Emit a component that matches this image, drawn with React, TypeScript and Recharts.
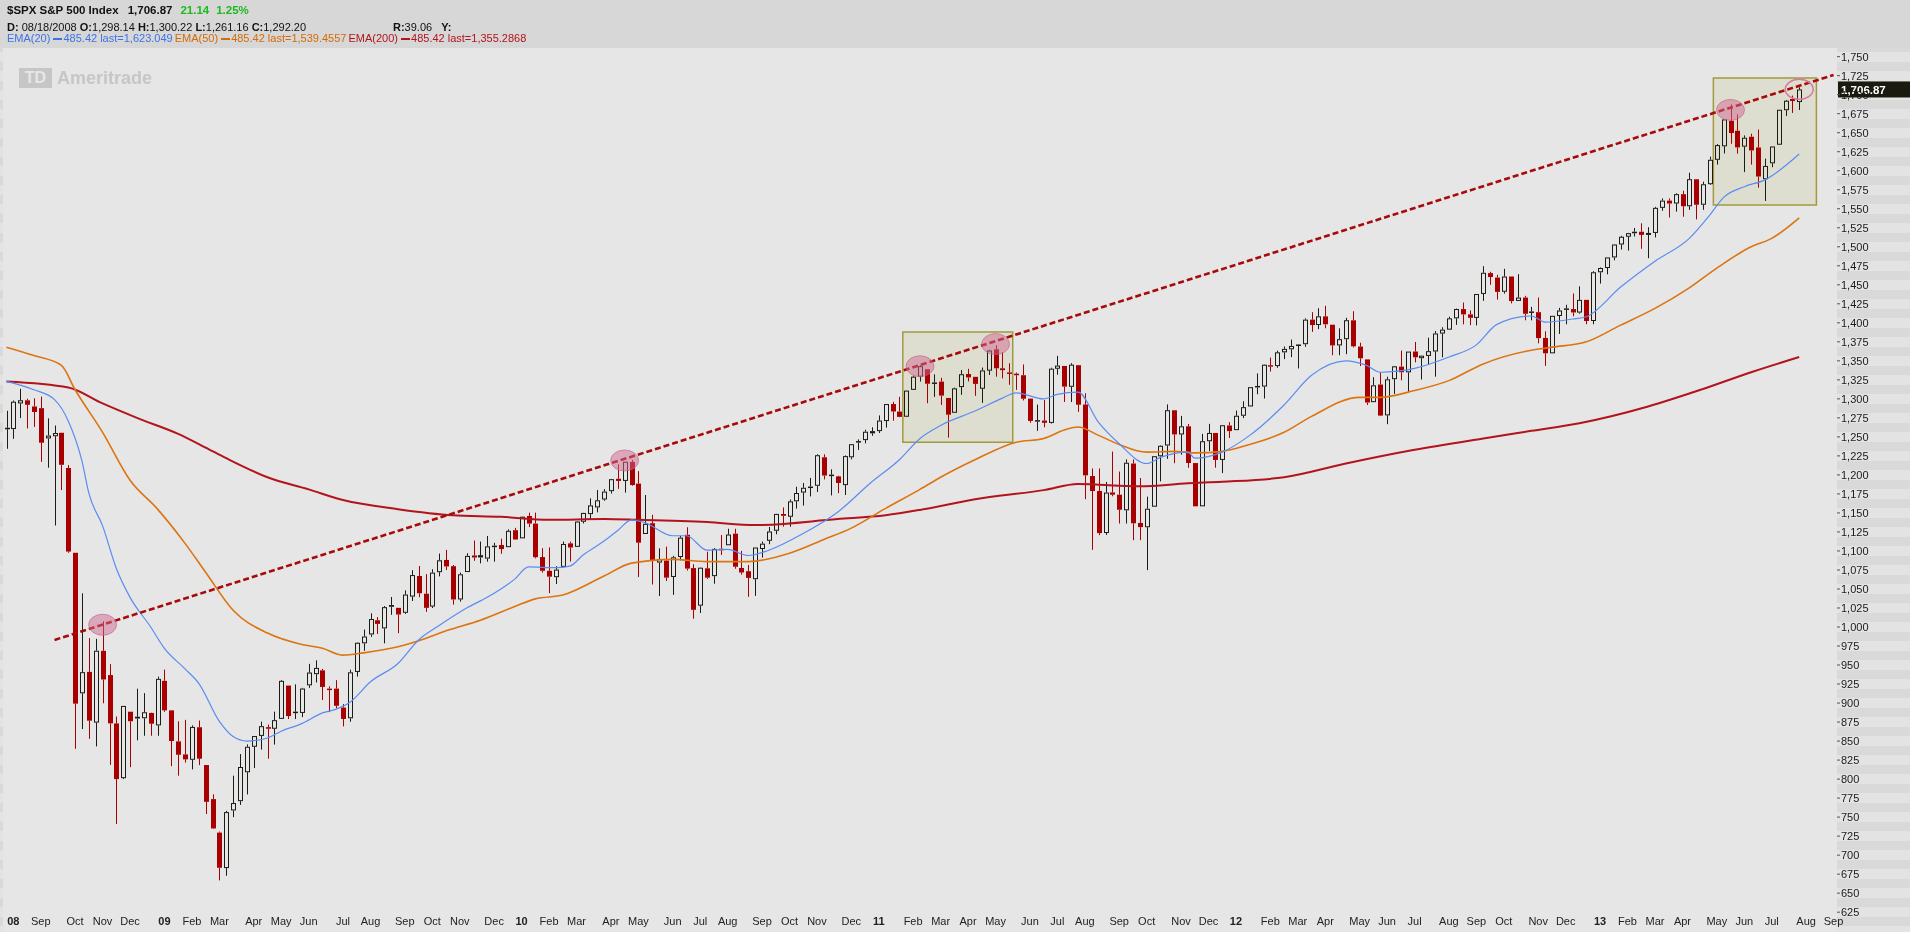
import React from "react";
import {
  Bar,
  ComposedChart,
  Line,
  ReferenceArea,
  ReferenceDot,
  ReferenceLine,
  XAxis,
  YAxis,
} from "recharts";

// weekly bars, [open, high, low, close], first bar is the week of 2008-07-28
type Ohlc = [number, number, number, number];

const bars2008: Ohlc[] = [
  [1262, 1284.3, 1234.4, 1260.3], [1260.3, 1297.9, 1247.5, 1296.3], [1294, 1313.2, 1274.7, 1298.2],
  [1298.1, 1300.2, 1261.2, 1292.2], [1290, 1300.7, 1263.2, 1282.8], [1287.8, 1303.0, 1217.2, 1242.3],
  [1248, 1274.4, 1209.5, 1251.7], [1250.9, 1265.0, 1133.5, 1255.1], [1255.4, 1255.5, 1180.0, 1213.3],
  [1209.1, 1213.0, 1097.6, 1099.2], [1097.6, 1097.6, 839.8, 899.2], [912.8, 1044.3, 865.8, 940.6],
  [941.0, 985.4, 853.0, 876.8], [874.3, 984.4, 843.0, 968.8], [968.7, 1007.5, 899.7, 931.0],
  [936.8, 951.2, 818.7, 873.3], [873.2, 882.3, 741.0, 800.0], [801.2, 896.3, 800.0, 896.2],
  [888.6, 888.6, 815.7, 876.1], [882.0, 918.9, 851.0, 879.7], [880.0, 913.0, 857.0, 887.9],
  [887.0, 887.4, 857.0, 872.8], [870.6, 934.7, 857.0, 931.8],
];

const bars2009: Ohlc[] = [
  [929.2, 943.9, 888.3, 890.4], [890.4, 890.4, 817.0, 850.1], [849.6, 876.0, 804.5, 832.0],
  [832.5, 877.9, 821.7, 825.9], [825.4, 870.7, 812.8, 868.6], [868.2, 877.0, 818.4, 826.8],
  [818.5, 818.5, 754.0, 770.1], [773.7, 780.0, 734.5, 735.1], [729.6, 731.0, 666.8, 683.4],
  [683.0, 758.3, 672.9, 756.6], [758.8, 804.5, 750.0, 768.5], [771.0, 832.9, 766.0, 815.9],
  [809.0, 845.6, 779.8, 842.5], [842.5, 856.6, 814.5, 856.6], [856.8, 875.6, 838.8, 869.6],
  [868.3, 871.8, 826.8, 866.2], [866.2, 888.7, 845.4, 877.5], [879.2, 930.2, 879.2, 929.2],
  [923.0, 923.0, 879.0, 882.9], [888.7, 924.6, 879.0, 887.0], [887.0, 920.0, 881.5, 919.1],
  [923.3, 951.5, 920.0, 940.1], [938.0, 956.2, 927.0, 946.2], [943.0, 945.0, 904.0, 921.2],
  [919.0, 922.0, 888.0, 918.9], [919.0, 930.1, 893.0, 896.4], [894.0, 898.7, 869.3, 879.1],
  [880.0, 943.9, 875.4, 940.4], [940.9, 979.8, 934.8, 979.3], [978.6, 996.7, 968.7, 987.5],
  [990.2, 1018.0, 987.0, 1010.5], [1008.9, 1013.1, 990.9, 1004.1], [998.2, 1027.6, 978.5, 1026.1],
  [1026.6, 1039.5, 1016.0, 1028.9], [1025.2, 1025.2, 992.0, 1016.4], [1018.7, 1048.2, 1017.3, 1042.7],
  [1040.0, 1074.8, 1034.2, 1068.3], [1067.1, 1080.2, 1039.2, 1044.4], [1043.8, 1069.6, 1019.9, 1025.2],
  [1026.9, 1076.0, 1025.0, 1071.5], [1072.1, 1096.6, 1066.6, 1087.7], [1088.2, 1101.4, 1075.0, 1079.6],
  [1080.0, 1081.5, 1029.4, 1036.2], [1036.2, 1071.5, 1033.4, 1069.3], [1072.3, 1097.0, 1072.3, 1093.5],
  [1094.1, 1113.7, 1087.0, 1091.4], [1094.5, 1112.4, 1083.7, 1091.5], [1090.0, 1119.7, 1085.9, 1106.0],
  [1107.0, 1110.7, 1085.9, 1106.4], [1107.8, 1116.2, 1096.3, 1102.5], [1105.0, 1128.5, 1105.0, 1126.5],
  [1127.3, 1130.4, 1114.8, 1115.1],
];

const bars2010: Ohlc[] = [
  [1116.6, 1145.4, 1116.6, 1145.0], [1146.0, 1150.4, 1131.4, 1136.0], [1136.0, 1150.4, 1090.2, 1091.8],
  [1092.0, 1103.7, 1071.6, 1073.9], [1073.9, 1104.7, 1044.5, 1066.2], [1065.5, 1080.0, 1056.5, 1075.5],
  [1079.1, 1112.4, 1079.1, 1109.2], [1110.0, 1112.3, 1086.0, 1104.5], [1105.4, 1139.0, 1105.4, 1138.7],
  [1138.4, 1150.2, 1136.2, 1150.0], [1148.5, 1169.2, 1141.5, 1159.9], [1157.3, 1180.2, 1150.8, 1166.6],
  [1167.7, 1181.4, 1165.9, 1178.1], [1178.7, 1194.7, 1175.5, 1194.4], [1194.9, 1213.9, 1181.6, 1192.1],
  [1192.1, 1217.4, 1176.7, 1217.3], [1217.1, 1219.8, 1185.8, 1186.7], [1188.6, 1205.0, 1065.8, 1110.9],
  [1122.3, 1173.6, 1122.3, 1135.7], [1136.5, 1147.6, 1055.9, 1087.7], [1084.8, 1103.5, 1040.8, 1089.4],
  [1087.3, 1105.7, 1060.4, 1064.9], [1065.8, 1093.6, 1042.2, 1091.6], [1092.0, 1119.7, 1087.7, 1117.5],
  [1121.3, 1131.2, 1074.2, 1076.8], [1077.5, 1082.6, 1010.9, 1022.6], [1028.1, 1078.2, 1018.4, 1078.0],
  [1077.2, 1099.1, 1063.3, 1064.9], [1066.9, 1103.7, 1056.9, 1102.7], [1102.9, 1121.0, 1094.7, 1101.6],
  [1107.5, 1129.2, 1107.5, 1121.6], [1122.8, 1129.2, 1076.6, 1079.3], [1077.6, 1100.1, 1068.8, 1071.7],
  [1073.4, 1081.6, 1039.7, 1064.6], [1062.9, 1104.5, 1040.9, 1104.5], [1102.6, 1112.4, 1091.2, 1109.6],
  [1113.4, 1131.5, 1108.9, 1125.6], [1126.6, 1148.9, 1121.9, 1148.7], [1148.6, 1157.2, 1131.9, 1146.2],
  [1145.0, 1167.7, 1131.9, 1165.2], [1165.3, 1184.4, 1155.7, 1176.2], [1176.8, 1189.4, 1159.7, 1183.1],
  [1184.7, 1196.1, 1171.7, 1183.3], [1185.7, 1227.1, 1177.6, 1225.9], [1223.2, 1227.1, 1194.1, 1199.2],
  [1200.4, 1207.4, 1173.0, 1199.7], [1198.1, 1198.9, 1176.0, 1189.4], [1186.6, 1225.6, 1173.6, 1224.7],
  [1223.2, 1240.4, 1220.5, 1240.4], [1244.5, 1246.7, 1232.9, 1243.9], [1245.8, 1259.4, 1241.5, 1256.8],
  [1254.7, 1262.6, 1251.5, 1257.6],
];

const bars2011: Ohlc[] = [
  [1257.6, 1278.2, 1255.1, 1271.5], [1270.8, 1293.2, 1262.2, 1293.2], [1293.2, 1296.1, 1271.3, 1283.4],
  [1283.3, 1302.7, 1275.9, 1276.3], [1276.5, 1311.0, 1276.5, 1310.9], [1311.9, 1330.8, 1311.7, 1329.2],
  [1329.2, 1344.1, 1322.8, 1343.0], [1339.0, 1339.0, 1294.3, 1319.9], [1321.6, 1332.3, 1302.6, 1321.2],
  [1322.7, 1327.7, 1292.0, 1304.3], [1301.2, 1301.2, 1249.1, 1279.2], [1281.7, 1314.8, 1281.7, 1313.8],
  [1315.5, 1337.9, 1305.3, 1332.4], [1332.7, 1339.5, 1322.9, 1328.2], [1329.0, 1329.0, 1304.0, 1319.7],
  [1313.3, 1341.2, 1294.7, 1337.4], [1337.1, 1364.6, 1331.5, 1363.6], [1365.2, 1370.6, 1329.2, 1340.2],
  [1340.2, 1361.4, 1326.9, 1337.8], [1334.8, 1346.8, 1318.5, 1333.3], [1333.1, 1334.6, 1311.8, 1331.1],
  [1331.1, 1345.2, 1297.9, 1300.2], [1300.3, 1300.6, 1268.5, 1271.0], [1272.0, 1292.5, 1258.0, 1271.5],
  [1271.5, 1298.6, 1262.7, 1268.5], [1268.4, 1341.0, 1267.5, 1339.7], [1339.6, 1356.5, 1331.7, 1343.8],
  [1343.3, 1343.3, 1295.9, 1316.1], [1315.9, 1347.0, 1295.9, 1345.0], [1344.3, 1344.3, 1282.9, 1292.3],
  [1292.6, 1307.4, 1168.1, 1199.4], [1198.5, 1208.5, 1101.5, 1178.8], [1178.9, 1208.5, 1120.8, 1123.5],
  [1123.6, 1190.7, 1121.1, 1176.8], [1177.0, 1230.7, 1171.9, 1174.0], [1174.0, 1204.4, 1136.1, 1154.2],
  [1153.5, 1220.4, 1136.1, 1216.0], [1215.0, 1220.4, 1114.2, 1136.4], [1136.9, 1195.9, 1114.2, 1131.4],
  [1131.2, 1171.4, 1074.8, 1155.5], [1158.2, 1224.6, 1158.2, 1224.6], [1224.5, 1239.0, 1191.5, 1238.3],
  [1238.7, 1292.7, 1221.1, 1285.1], [1285.0, 1285.0, 1215.4, 1253.2], [1253.2, 1277.6, 1226.6, 1263.9],
  [1263.9, 1266.9, 1209.4, 1215.7], [1215.6, 1215.6, 1158.7, 1158.7], [1158.7, 1254.0, 1158.7, 1244.3],
  [1244.3, 1267.1, 1231.5, 1255.2], [1255.1, 1255.1, 1209.5, 1219.7], [1219.7, 1265.4, 1202.4, 1265.3],
  [1265.0, 1269.4, 1248.6, 1257.6],
];

const bars2012: Ohlc[] = [
  [1258.9, 1284.6, 1258.9, 1277.8], [1277.8, 1296.8, 1274.7, 1289.1], [1290.0, 1315.5, 1290.0, 1315.4],
  [1317.0, 1333.5, 1306.1, 1316.3], [1316.2, 1345.3, 1300.5, 1344.9], [1344.3, 1354.3, 1335.9, 1342.6],
  [1343.1, 1363.4, 1340.9, 1361.2], [1361.2, 1368.9, 1352.3, 1365.7], [1365.2, 1378.0, 1354.9, 1369.6],
  [1371.5, 1371.9, 1340.0, 1370.9], [1371.9, 1405.9, 1368.5, 1404.2], [1404.2, 1414.0, 1388.1, 1397.1],
  [1397.1, 1419.2, 1391.6, 1408.5], [1408.5, 1422.4, 1392.9, 1398.1], [1397.5, 1397.5, 1357.4, 1370.3],
  [1370.3, 1392.8, 1357.4, 1378.5], [1378.5, 1406.6, 1358.8, 1403.4], [1403.3, 1415.3, 1367.6, 1369.1],
  [1368.8, 1373.9, 1343.1, 1353.4], [1351.9, 1351.9, 1292.0, 1295.2], [1295.7, 1328.5, 1295.7, 1317.8],
  [1318.9, 1334.9, 1277.3, 1278.0], [1278.3, 1329.1, 1266.7, 1325.7], [1325.9, 1343.3, 1306.6, 1342.8],
  [1342.4, 1363.5, 1324.4, 1335.0], [1334.9, 1362.2, 1309.3, 1362.2], [1362.3, 1374.8, 1348.0, 1354.7],
  [1353.5, 1357.0, 1325.4, 1356.8], [1356.5, 1380.4, 1345.1, 1362.7], [1362.3, 1389.2, 1329.2, 1386.0],
  [1385.9, 1394.2, 1354.7, 1391.0], [1391.0, 1408.1, 1391.0, 1405.9], [1405.9, 1418.7, 1397.3, 1418.2],
  [1418.1, 1426.7, 1398.0, 1411.1], [1411.1, 1416.3, 1397.0, 1406.6], [1406.5, 1437.9, 1396.6, 1437.9],
  [1438.0, 1474.5, 1428.9, 1465.8], [1465.4, 1467.1, 1450.0, 1460.2], [1459.5, 1463.2, 1430.5, 1440.7],
  [1440.9, 1471.0, 1438.4, 1460.9], [1460.9, 1460.9, 1425.5, 1428.6], [1428.8, 1464.0, 1428.8, 1433.2],
  [1433.2, 1435.5, 1403.3, 1411.9], [1415.0, 1421.0, 1403.3, 1414.2], [1414.0, 1433.4, 1373.0, 1379.9],
  [1380.1, 1388.8, 1343.4, 1359.9], [1359.9, 1409.2, 1359.9, 1409.2], [1409.0, 1419.7, 1385.4, 1416.2],
  [1419.0, 1423.7, 1398.1, 1418.1], [1418.1, 1438.6, 1408.6, 1413.6], [1413.5, 1448.0, 1412.0, 1430.2],
  [1430.2, 1430.2, 1398.1, 1402.4], [1402.4, 1467.9, 1398.1, 1466.5],
];

const bars2013: Ohlc[] = [
  [1466.5, 1472.8, 1451.6, 1472.1], [1472.1, 1486.0, 1463.8, 1486.0], [1486.0, 1503.3, 1482.2, 1503.0],
  [1503.0, 1514.4, 1496.3, 1513.2], [1513.2, 1518.3, 1495.0, 1517.9], [1517.9, 1524.7, 1513.5, 1519.8],
  [1519.8, 1530.9, 1497.3, 1515.6], [1515.6, 1525.8, 1485.0, 1518.2], [1518.2, 1552.5, 1512.3, 1551.2],
  [1551.2, 1563.6, 1547.4, 1560.7], [1560.7, 1563.6, 1538.6, 1556.9], [1556.9, 1570.3, 1546.2, 1569.2],
  [1569.2, 1573.7, 1539.5, 1553.3], [1553.3, 1597.4, 1548.6, 1588.9], [1588.8, 1588.8, 1536.0, 1555.3],
  [1555.3, 1585.6, 1548.6, 1582.2], [1582.3, 1618.5, 1581.3, 1614.4], [1614.4, 1635.0, 1608.0, 1633.7],
  [1632.1, 1667.5, 1622.7, 1667.5], [1665.7, 1687.2, 1635.5, 1649.6], [1652.6, 1674.2, 1622.5, 1630.7],
  [1631.7, 1646.5, 1598.2, 1643.4], [1644.7, 1648.7, 1608.1, 1626.7], [1630.6, 1654.2, 1577.7, 1592.4],
  [1588.8, 1615.9, 1560.3, 1606.3], [1609.8, 1631.9, 1604.6, 1631.9], [1634.2, 1680.2, 1634.2, 1680.2],
  [1679.6, 1693.1, 1672.1, 1692.1], [1694.4, 1698.8, 1676.0, 1691.7], [1690.3, 1709.7, 1679.9, 1706.9],
];

// moving averages: [week index, level]
const ema20Points: [number, number][] = [
  [0, 1323], [4, 1312], [7, 1299], [9, 1271], [11, 1218], [12, 1176], [14, 1133], [16, 1077], [18, 1039],
  [21, 1000], [23, 972], [26, 945], [28, 926], [31, 876], [33, 856], [35, 850], [38, 854], [40, 863],
  [43, 873], [46, 887], [48, 892], [50, 901], [53, 928], [57, 952], [60, 983], [63, 1002], [67, 1025],
  [70, 1039], [74, 1063], [76, 1079], [80, 1078], [82, 1080], [84, 1095], [87, 1113], [89, 1127],
  [91, 1141], [93, 1137], [97, 1120], [99, 1120], [102, 1101], [105, 1102], [108, 1094], [111, 1101],
  [116, 1123], [121, 1151], [126, 1191], [130, 1220], [133, 1248], [136, 1265], [141, 1284], [145, 1301],
  [147, 1308], [151, 1300], [153, 1306], [156, 1309], [159, 1269], [162, 1241], [166, 1215], [168, 1223],
  [172, 1230], [173, 1222], [177, 1230], [181, 1252], [186, 1292], [190, 1331], [195, 1350], [198, 1344],
  [200, 1335], [205, 1340], [210, 1355], [214, 1371], [217, 1398], [222, 1409], [224, 1401], [228, 1405],
  [230, 1408], [235, 1447], [240, 1481], [245, 1511], [248, 1542], [250, 1565], [253, 1579], [256, 1588],
  [261, 1622],
];

const ema50Points: [number, number][] = [
  [0, 1368], [4, 1357], [8, 1344], [10, 1312], [14, 1256], [18, 1193], [22, 1155], [26, 1110], [29, 1072],
  [33, 1022], [38, 992], [43, 977], [46, 972], [49, 963], [52, 966], [57, 974], [61, 985], [64, 995],
  [69, 1009], [74, 1027], [77, 1037], [81, 1042], [87, 1067], [91, 1084], [97, 1089], [102, 1086],
  [108, 1086], [114, 1097], [119, 1115], [123, 1130], [128, 1156], [133, 1181], [136, 1197], [141, 1220],
  [147, 1243], [151, 1248], [154, 1259], [156, 1263], [159, 1252], [162, 1240], [166, 1230], [170, 1231],
  [173, 1229], [177, 1231], [181, 1240], [186, 1256], [190, 1277], [197, 1302], [200, 1302], [205, 1311],
  [210, 1324], [215, 1346], [222, 1364], [225, 1368], [230, 1375], [235, 1397], [240, 1419], [245, 1446],
  [249, 1472], [254, 1500], [257, 1511], [261, 1538],
];

const ema200Points: [number, number][] = [
  [0, 1323], [9, 1315], [14, 1294], [19, 1275], [25, 1254], [29, 1236], [32, 1222], [38, 1197], [44, 1181],
  [49, 1167], [57, 1155], [65, 1147], [72, 1145], [79, 1141], [87, 1142], [92, 1141], [102, 1138],
  [109, 1134], [121, 1142], [128, 1147], [133, 1154], [141, 1168], [151, 1180], [156, 1188], [165, 1185],
  [172, 1189], [177, 1191], [186, 1197], [195, 1215], [205, 1233], [215, 1248], [222, 1258], [229, 1268],
  [239, 1290], [247, 1313], [254, 1335], [261, 1355],
];

// drawn annotations: touches of the trend line, the trend line itself and the two boxes
const touchPoints: [number, number][] = [[14, 1003], [90, 1219], [133, 1343], [144, 1372], [251, 1680]];
const openTouch: [number, number] = [261, 1707];
const trendLine: [number, number][] = [[7, 983], [266, 1726]];
const boxes: [number, number, number, number][] = [
  [131, 146, 1243, 1388],
  [249, 263, 1555, 1722],
];

const priceTicks = [
  625, 650, 675, 700, 725, 750, 775, 800, 825, 850, 875, 900, 925, 950, 975, 1000, 1025, 1050, 1075,
  1100, 1125, 1150, 1175, 1200, 1225, 1250, 1275, 1300, 1325, 1350, 1375, 1400, 1425, 1450, 1475,
  1500, 1525, 1550, 1575, 1600, 1625, 1650, 1675, 1700, 1725, 1750,
];
const MONTHS = ["Jan", "Feb", "Mar", "Apr", "May", "Jun", "Jul", "Aug", "Sep", "Oct", "Nov", "Dec"];
const LAST_PRICE = 1706.87;
const FIRST_WEEK = Date.UTC(2008, 6, 28);
const WEEK_SLOTS = 267;

const FONT = "'Liberation Sans', Arial, sans-serif";
const RED = "#a80000";
const INK = "#1c1c14";
const BLUE = "#3f72e6";
const ORANGE = "#d46a08";
const DARKRED = "#b3141c";

const allBars = [...bars2008, ...bars2009, ...bars2010, ...bars2011, ...bars2012, ...bars2013];
const ema20 = new Map(ema20Points);
const ema50 = new Map(ema50Points);
const ema200 = new Map(ema200Points);

const rows = Array.from({ length: WEEK_SLOTS }, (_, i) => {
  const bar = allBars[i];
  const date = new Date(FIRST_WEEK + i * 7 * 86400000);
  return {
    i,
    month: date.getUTCMonth(),
    year: date.getUTCFullYear(),
    range: bar ? [bar[2], bar[1]] : undefined,
    open: bar?.[0],
    high: bar?.[1],
    low: bar?.[2],
    close: bar?.[3],
    prevClose: i > 0 ? allBars[i - 1]?.[3] : undefined,
    ema20: ema20.get(i),
    ema50: ema50.get(i),
    ema200: ema200.get(i),
  };
});

const monthTicks = rows.filter((r, i) => i > 0 && r.month !== rows[i - 1].month).map((r) => r.i);
const tickText = new Map(
  monthTicks.map((i, k) => {
    const r = rows[i];
    const isYear = k === 0 || r.month === 0;
    return [i, { text: isYear ? String(r.year).slice(2) : MONTHS[r.month], bold: isYear }];
  }),
);

function Candle(props: any) {
  const { x, y, width, height, payload } = props;
  if (!payload || payload.high == null) return null;
  const { open, high, low, close, prevClose } = payload;
  const top = Math.min(y, y + height);
  const bottom = Math.max(y, y + height);
  const span = high - low;
  const px = (v: number) => (span === 0 ? top : top + ((high - v) / span) * (bottom - top));
  const cx = Math.round(x + width / 2);
  const color = prevClose == null || close >= prevClose ? INK : RED;
  const bodyTop = px(Math.max(open, close));
  const bodyBottom = px(Math.min(open, close));
  const bodyH = Math.max(1.5, bodyBottom - bodyTop);
  const filled = close < open || bodyH < 2.5;
  return (
    <g>
      <line x1={cx + 0.5} x2={cx + 0.5} y1={px(high)} y2={bodyTop} stroke={color} strokeWidth={1} />
      <line x1={cx + 0.5} x2={cx + 0.5} y1={bodyTop + bodyH} y2={px(low)} stroke={color} strokeWidth={1} />
      {filled ? (
        <rect x={cx - 2} y={bodyTop} width={5} height={bodyH} fill={color} />
      ) : (
        <rect x={cx - 1.5} y={bodyTop + 0.5} width={4} height={bodyH - 1} fill="none" stroke={color} strokeWidth={1} />
      )}
    </g>
  );
}

function MonthTick(props: any) {
  const { x, y, payload } = props;
  const t = tickText.get(payload.value);
  if (!t) return null;
  return (
    <text
      x={x}
      y={y + 7}
      dy="0.355em"
      textAnchor="middle"
      fontFamily={FONT}
      fontSize={11}
      fontWeight={t.bold ? 700 : 400}
      fill="#222"
    >
      {t.text}
    </text>
  );
}

function PriceTag(props: any) {
  const vb = props.viewBox;
  if (!vb) return null;
  const x = vb.x + vb.width + 1;
  return (
    <g>
      <rect x={x} y={vb.y - 8} width={72} height={16} fill="#1a1a0e" />
      <text x={x + 3} y={vb.y} dy="0.355em" fontFamily={FONT} fontSize={11.5} fontWeight={700} fill="#ffffff">
        {LAST_PRICE.toLocaleString("en-US", { minimumFractionDigits: 2 })}
      </text>
    </g>
  );
}

function Study({ name, color, last }: { name: string; color: string; last: string }) {
  return (
    <span style={{ color, marginRight: 2 }}>
      {name}{" "}
      <span style={{ display: "inline-block", width: 9, height: 2, background: color, verticalAlign: "middle", marginRight: 1 }} />
      485.42 last={last}
    </span>
  );
}

export default function App() {
  const row: React.CSSProperties = {
    position: "absolute",
    left: 7,
    whiteSpace: "nowrap",
    fontFamily: FONT,
    fontSize: 11,
    lineHeight: "13px",
    color: "#111",
  };
  return (
    <div
      style={{
        position: "fixed",
        left: 0,
        top: 0,
        width: 1910,
        height: 932,
        overflow: "hidden",
        background:
          "repeating-linear-gradient(to bottom, #e3e3e3 0px, #e3e3e3 10px, #d9d9d9 10px, #d9d9d9 19px)",
        backgroundPosition: "0 14px",
      }}
    >
      <div style={{ position: "absolute", left: 3, top: 48, width: 1834, height: 884, background: "#e6e6e6" }} />
      <div style={{ position: "absolute", left: 0, top: 0, width: 1910, height: 48, background: "#d7d7d7" }} />

      <div
        style={{
          position: "absolute",
          left: 19,
          top: 68,
          width: 33,
          height: 20,
          background: "#c6c6c6",
          color: "#e6e6e6",
          fontFamily: FONT,
          fontWeight: 700,
          fontSize: 16,
          lineHeight: "20px",
          textAlign: "center",
        }}
      >
        TD
      </div>
      <div
        style={{
          position: "absolute",
          left: 57,
          top: 67,
          fontFamily: FONT,
          fontWeight: 700,
          fontSize: 18,
          lineHeight: "22px",
          color: "#c6c6c6",
        }}
      >
        Ameritrade
      </div>

      <ComposedChart
        width={1910}
        height={932}
        data={rows}
        margin={{ top: 48, right: 0, bottom: 0, left: 3 }}
        barCategoryGap={0}
        barGap={0}
        style={{ position: "absolute", left: 0, top: 0 }}
      >
        <XAxis
          dataKey="i"
          type="category"
          ticks={monthTicks}
          interval={0}
          tick={<MonthTick />}
          tickLine={false}
          axisLine={false}
          tickSize={0}
          tickMargin={0}
          height={18}
        />
        <YAxis
          orientation="right"
          type="number"
          width={73}
          domain={[622.6, 1761.4]}
          allowDataOverflow
          ticks={priceTicks}
          interval={0}
          tickFormatter={(v) => Number(v).toLocaleString("en-US")}
          tick={{ fill: "#1a1a1a", fontSize: 11, fontFamily: FONT }}
          tickLine={{ stroke: "#555" }}
          tickSize={3}
          tickMargin={1}
          axisLine={false}
        />
        {boxes.map(([x1, x2, y1, y2], k) => (
          <ReferenceArea
            key={`box${k}`}
            x1={x1}
            x2={x2}
            y1={y1}
            y2={y2}
            fill="#c8c890"
            fillOpacity={0.25}
            stroke="#a09a3c"
            strokeWidth={1.5}
          />
        ))}
        <Bar dataKey="range" shape={<Candle />} isAnimationActive={false} />
        <Line dataKey="ema200" type="monotone" stroke={DARKRED} strokeWidth={2} dot={false} activeDot={false} connectNulls isAnimationActive={false} />
        <Line dataKey="ema50" type="monotone" stroke="#dc7410" strokeWidth={1.6} dot={false} activeDot={false} connectNulls isAnimationActive={false} />
        <Line dataKey="ema20" type="monotone" stroke="#5a8cf2" strokeWidth={1.2} dot={false} activeDot={false} connectNulls isAnimationActive={false} />
        {touchPoints.map(([x, y], k) => (
          <ReferenceDot
            key={`touch${k}`}
            x={x}
            y={y}
            ifOverflow="visible"
            shape={(p: any) => (
              <ellipse cx={p.cx} cy={p.cy} rx={14} ry={10.5} fill="#d06890" fillOpacity={0.5} stroke="#c85c88" strokeOpacity={0.6} strokeWidth={1} />
            )}
          />
        ))}
        <ReferenceDot
          x={openTouch[0]}
          y={openTouch[1]}
          ifOverflow="visible"
          shape={(p: any) => (
            <ellipse cx={p.cx} cy={p.cy} rx={14} ry={10} fill="none" stroke="#d27aa0" strokeWidth={1.5} />
          )}
        />
        <ReferenceLine
          segment={[
            { x: trendLine[0][0], y: trendLine[0][1] },
            { x: trendLine[1][0], y: trendLine[1][1] },
          ]}
          stroke="#a80a0a"
          strokeWidth={2.6}
          strokeDasharray="6 3"
          ifOverflow="visible"
        />
        <ReferenceLine y={LAST_PRICE} stroke="transparent" ifOverflow="visible" label={<PriceTag />} />
      </ComposedChart>

      <div style={{ ...row, top: 3, fontSize: 11.5, fontWeight: 700, lineHeight: "14px" }}>
        $SPX S&amp;P 500 Index
        <span style={{ marginLeft: 9 }}>1,706.87</span>
        <span style={{ marginLeft: 8, color: "#1fb81f" }}>21.14</span>
        <span style={{ marginLeft: 7, color: "#1fb81f" }}>1.25%</span>
      </div>

      <div style={{ ...row, top: 21 }}>
        <b>D:</b> 08/18/2008 <b>O:</b>1,298.14 <b>H:</b>1,300.22 <b>L:</b>1,261.16 <b>C:</b>1,292.20
      </div>
      <div style={{ ...row, top: 21, left: 393 }}>
        <b>R:</b>39.06<b style={{ marginLeft: 9 }}>Y:</b>
      </div>

      <div style={{ ...row, top: 32 }}>
        <Study name="EMA(20)" color={BLUE} last="1,623.049" />
        <Study name="EMA(50)" color={ORANGE} last="1,539.4557" />
        <Study name="EMA(200)" color={DARKRED} last="1,355.2868" />
      </div>
    </div>
  );
}
